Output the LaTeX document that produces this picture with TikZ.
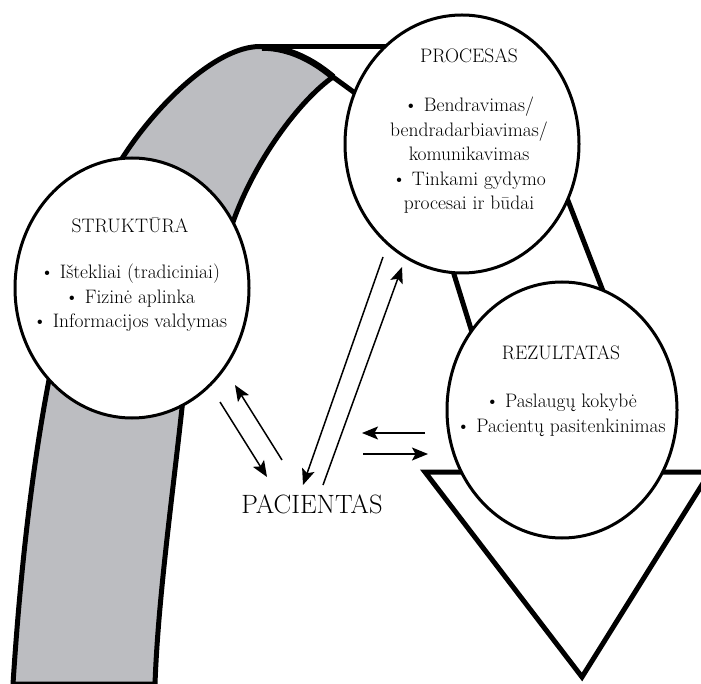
\documentclass[tikz,border=0pt]{standalone}
\usepackage{fontspec}
\usetikzlibrary{arrows.meta,shapes.geometric}
\definecolor{bandgray}{RGB}{188,189,193}
\begin{document}
\begin{tikzpicture}[x=1pt,y=-1pt,
  thickline/.style={line width=5pt, line join=round},
  bubble/.style={ellipse, draw, fill=white, line width=3pt, inner sep=0pt},
  bubbletext/.style={align=center, anchor=base, inner sep=0pt, font=\fontsize{19.5}{24.5}\selectfont},
  flow/.style={line width=1.5pt, -{Stealth[length=16pt,width=13pt,inset=3.5pt]}},
]
\useasboundingbox (0,0) rectangle (701,684);
\clip (0,0) rectangle (701,684);

% triangle (arrow head of the ribbon)
\draw[line width=5pt, line join=miter, fill=white] (425,472) -- (710,472) -- (582,677) -- cycle;

% right (white) ribbon edges
\draw[thickline] (448,255) -- (476,345);
\draw[thickline] (560,180) -- (608,304);

% top (white) ribbon edges
\draw[thickline] (260,46.5) -- (400,46.5);
\draw[thickline] (333,77) -- (370,104);

% grey ribbon
\draw[thickline, fill=bandgray]
  (13,684) .. controls (30,420) and (70,240) .. (123,157)
  .. controls (155,107) and (215,46.5) .. (260,46.5)
  .. controls (290,46.5) and (315,62) .. (333,77)
  .. controls (300,100) and (255,160) .. (233,222)
  .. controls (215,270) and (190,340) .. (182,408)
  .. controls (172,500) and (158,600) .. (155,684) -- cycle;
% heavier stroke where the ribbon folds over
\draw[line width=6.5pt] (262,47.5) .. controls (291,47.5) and (315,62) .. (333,77);

% bubbles
\node[bubble, minimum width=234pt, minimum height=260pt] (struktura) at (132,288) {};
\node[bubble, minimum width=234pt, minimum height=258pt] (procesas) at (462,144) {};
\node[bubble, minimum width=230pt, minimum height=256pt] (rezultatas) at (562,410) {};

% texts (anchored at the baseline of their last line)
\node[bubbletext] (strukturatext) at (130,328)
  {STRUKTŪRA\\[22.5pt]\textbullet{} Ištekliai (tradiciniai)\\ \textbullet{} Fizinė aplinka\\ \textbullet{} Informacijos valdymas};
\node[bubbletext] (procesastext) at (469,210)
  {PROCESAS\\[24.5pt]\textbullet{} Bendravimas/\\ bendradarbiavimas/\\ komunikavimas\\ \textbullet{} Tinkami gydymo\\ procesai ir būdai};
\node[bubbletext] (rezultatastext) at (561,432)
  {REZULTATAS\\[23.5pt]\textbullet{} Paslaugų kokybė\\ \textbullet{} Pacientų pasitenkinimas};
\node[anchor=base, inner sep=0pt, font=\fontsize{26.5}{30}\selectfont] (pacientas) at (312,513) {PACIENTAS};

% arrow end points
\coordinate (sa) at (220,402); \coordinate (sb) at (267,477);
\coordinate (sc) at (282,460); \coordinate (sd) at (235,385);
\coordinate (pa) at (383,257); \coordinate (pb) at (303,485);
\coordinate (pc) at (323,485); \coordinate (pd) at (402,267);
\coordinate (ra) at (425,433); \coordinate (rb) at (362,433);
\coordinate (rc) at (363,454); \coordinate (rd) at (428,454);

\draw[flow] (sa) -- (sb);
\draw[flow] (sc) -- (sd);
\draw[flow] (pa) -- (pb);
\draw[flow] (pc) -- (pd);
\draw[flow] (ra) -- (rb);
\draw[flow] (rc) -- (rd);
\end{tikzpicture}
\end{document}
